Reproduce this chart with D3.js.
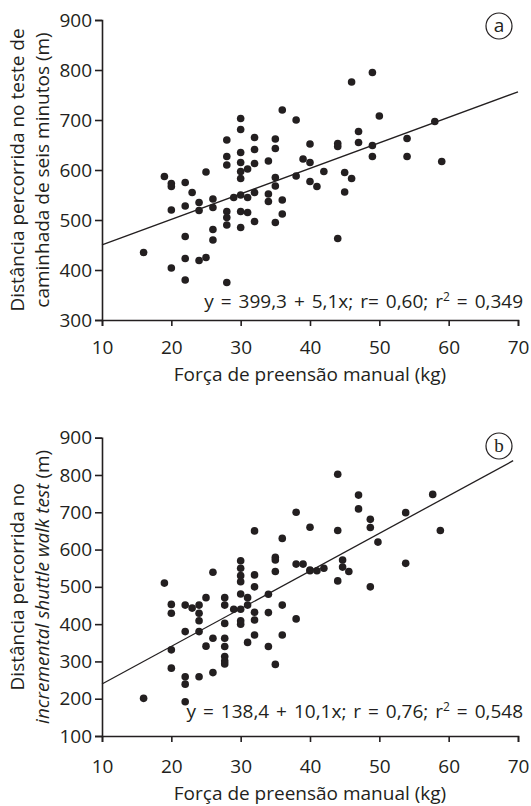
<!DOCTYPE html>
<html>
<head>
<meta charset="utf-8">
<script src="https://cdn.jsdelivr.net/npm/d3@7"></script>
<style>
  body { margin: 0; background: #fff; }
  text { font-family: "Open Sans", sans-serif; fill: #231f20; }
</style>
</head>
<body>
<script>
// grip strength (kg) vs distance, panel a = 6MWT, panel b = ISWT
var forcaA = [16, 19, 20, 20, 20, 20, 22, 22, 22, 22, 22, 23, 24, 24, 24, 25, 25, 26, 26, 26, 26,
    28, 28, 28, 28, 28, 28, 28, 29, 30, 30, 30, 30, 30, 30, 30, 30, 30, 31, 31, 31,
    32, 32, 32, 32, 32, 34, 34, 34, 35, 35, 35, 35, 35, 36, 36, 36, 38, 38, 39,
    40, 40, 40, 41, 42, 44, 44, 44, 45, 45, 46, 46, 47, 47, 49, 49, 49, 50, 54, 54, 58, 59];
var distA = [435, 587, 573, 567, 520, 404, 575, 528, 467, 423, 380, 555, 535, 519, 419, 596, 425, 542, 525, 481, 460,
    660, 627, 610, 517, 505, 490, 375, 545, 703, 681, 635, 615, 597, 583, 550, 517, 485, 602, 545, 515,
    665, 641, 613, 555, 497, 618, 552, 537, 662, 643, 585, 568, 495, 720, 540, 512, 700, 588, 622,
    652, 615, 577, 567, 597, 653, 647, 463, 595, 556, 776, 583, 677, 655, 795, 649, 627, 708, 663, 627, 697, 617];

var forcaB = [16, 19, 20, 20, 20, 20, 22, 22, 22, 22, 22, 23, 24, 24, 24, 24, 24, 25, 25, 26, 26, 26,
    27.7, 27.7, 27.7, 27.7, 27.7, 27.7, 27.7, 27.7, 29, 30, 30, 30, 30, 30, 30, 30, 30,
    31, 31, 31, 32, 32, 32, 32, 32, 32, 34, 34, 34, 35, 35, 35, 35, 36, 36, 36,
    38, 38, 38, 39, 40, 40, 40, 41, 42, 44, 44, 44, 44.7, 44.7, 45.6, 47, 47,
    48.7, 48.7, 48.7, 49.8, 53.8, 53.8, 57.7, 58.8];
var distB = [201, 510, 453, 429, 331, 282, 451, 380, 259, 239, 192, 443, 451, 429, 409, 380, 259, 471, 341, 539, 362, 270,
    471, 451, 402, 362, 340, 313, 301, 293, 440, 570, 550, 530, 514, 481, 440, 409, 400,
    471, 451, 351, 650, 532, 500, 432, 411, 371, 480, 431, 340, 579, 572, 541, 292, 630, 451, 371,
    700, 561, 414, 561, 660, 545, 543, 543, 550, 802, 651, 516, 572, 553, 541, 746, 709,
    681, 659, 500, 620, 699, 563, 748, 651];

var xTicks = [10, 20, 30, 40, 50, 60, 70];
var yTicksA = [300, 400, 500, 600, 700, 800, 900];
var yTicksB = [100, 200, 300, 400, 500, 600, 700, 800, 900];

// regression: intercept, slope
var fitA = [399.3, 5.1];
var fitB = [138.4, 10.1];

var svg = d3.select("body")
    .append("svg")
    .attr("width", 531)
    .attr("height", 806);

function panel(opts) {
    var x = d3.scaleLinear().domain([10, 70]).range([102, 518]);
    var y = d3.scaleLinear().domain(opts.yDomain).range(opts.yRange);
    var g = svg.append("g");

    var xAxis = g.append("g")
        .attr("transform", "translate(0," + opts.yRange[0] + ")")
        .call(d3.axisBottom(x).tickValues(xTicks).tickSize(6).tickPadding(opts.xPad));
    var yAxis = g.append("g")
        .attr("transform", "translate(102,0)")
        .call(d3.axisLeft(y).tickValues(opts.yTicks).tickSize(7).tickPadding(3));

    [xAxis, yAxis].forEach(a => {
        a.selectAll("path, line").attr("stroke", "#231f20").attr("stroke-width", 1.6);
        a.selectAll("text").style("font-size", "19px").attr("fill", "#231f20");
    });

    g.append("line")
        .attr("x1", x(10))
        .attr("y1", y(opts.fit[0] + opts.fit[1] * 10))
        .attr("x2", x(opts.xEnd))
        .attr("y2", y(opts.fit[0] + opts.fit[1] * opts.xEnd))
        .attr("stroke", "#231f20")
        .attr("stroke-width", 1.3);

    g.selectAll(".dot")
        .data(d3.zip(opts.xs, opts.ys))
        .enter()
        .append("circle")
        .attr("class", "dot")
        .attr("cx", d => x(d[0]))
        .attr("cy", d => y(d[1]))
        .attr("r", 3.8)
        .attr("fill", "#231f20");

    var eq = g.append("text")
        .attr("x", 523)
        .attr("y", opts.eqY)
        .attr("text-anchor", "end")
        .style("font-size", "19px")
        .style("word-spacing", "2px");
    opts.eq.forEach(p => {
        var t = eq.append("tspan").text(p[0]);
        if (p[1]) t.attr("dy", -7).style("font-size", "12px");
        if (p[2]) t.attr("dy", 7);
    });

    g.append("text")
        .attr("x", 310)
        .attr("y", opts.titleY)
        .attr("text-anchor", "middle")
        .style("font-size", "19px")
        .text("Força de preensão manual (kg)");

    var cy = (opts.yRange[0] + opts.yRange[1]) / 2;
    opts.ylab.forEach((line, i) => {
        var t = g.append("text")
            .attr("transform", "translate(" + (24 + i * 25) + "," + cy + ") rotate(-90)")
            .attr("text-anchor", "middle")
            .style("font-size", "19px");
        line.forEach(p => {
            t.append("tspan").style("font-style", p[1] ? "italic" : "normal").text(p[0]);
        });
    });

    g.append("circle")
        .attr("cx", opts.badge[0])
        .attr("cy", opts.badge[1])
        .attr("r", 13)
        .attr("fill", "none")
        .attr("stroke", "#231f20")
        .attr("stroke-width", 1.2);
    g.append("text")
        .attr("x", opts.badge[0])
        .attr("y", opts.badge[1] + 6)
        .attr("text-anchor", "middle")
        .style("font-size", "19px")
        .style("font-family", opts.badgeFont)
        .text(opts.badgeText);
}

panel({
    xs: forcaA, ys: distA,
    yDomain: [300, 900], yRange: [320, 20], yTicks: yTicksA,
    fit: fitA, xEnd: 70, eqY: 308, xPad: 15, titleY: 381,
    eq: [["y = 399,3 + 5,1x; r= 0,60; r"], ["2", true], [" = 0,349", false, true]],
    ylab: [[["Distância percorrida no teste de"]], [["caminhada de seis minutos (m)"]]],
    badge: [499, 26], badgeText: "a", badgeFont: "Open Sans"
});

panel({
    xs: forcaB, ys: distB,
    yDomain: [100, 900], yRange: [736, 437.7], yTicks: yTicksB,
    fit: fitB, xEnd: 69.3, eqY: 718, xPad: 18, titleY: 800,
    eq: [["y = 138,4 + 10,1x; r = 0,76; r"], ["2", true], [" = 0,548", false, true]],
    ylab: [[["Distância percorrida no"]], [["incremental shuttle walk test", true], [" (m)"]]],
    badge: [499, 446], badgeText: "b", badgeFont: "Liberation Serif"
});
</script>
</body>
</html>
